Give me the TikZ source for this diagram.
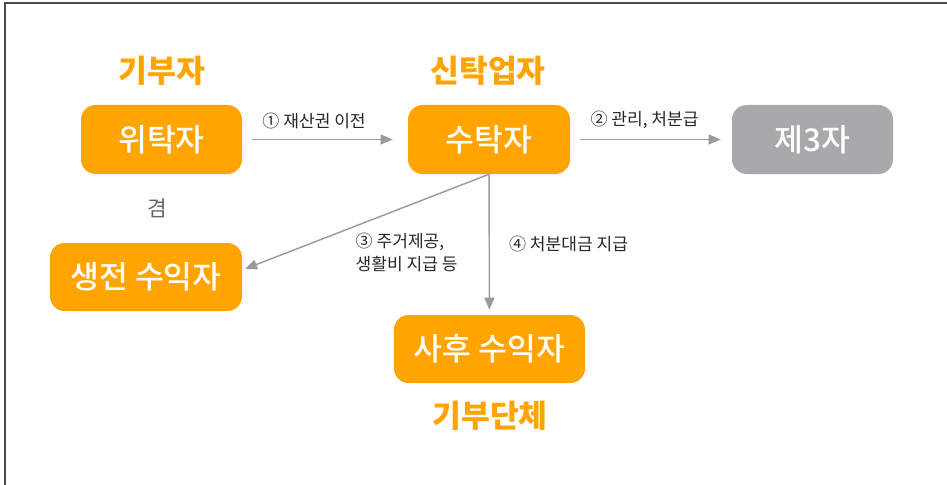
\documentclass[tikz,border=0pt]{standalone}
\usepackage{fontspec}
\setmainfont{Noto Sans CJK KR}
\newfontfamily\partyfont{Noto Sans CJK KR Medium}
\usetikzlibrary{calc,arrows.meta}
\definecolor{trustorange}{HTML}{FFA400}
\definecolor{boxgray}{HTML}{A8A9AB}
\definecolor{linegray}{HTML}{9B9B9B}
\tikzset{
  party/.style={rectangle, rounded corners=11pt, fill=trustorange, text=white,
    font=\partyfont\fontsize{23.5}{28}\selectfont, minimum width=120.75pt, minimum height=51.75pt, inner sep=0pt},
  role/.style={text=trustorange, font=\fontsize{23.5}{28}\selectfont\bfseries},
  flow/.style={draw=linegray, line width=1.1pt, -{Triangle[length=9pt,width=7.5pt]}},
  flowlabel/.style={font=\fontsize{12.8}{17.25}\selectfont, text=black!85}
}

\begin{document}
\begin{tikzpicture}[x=0.75pt,y=-0.75pt]
        \useasboundingbox (0,0) rectangle (947,485);
        \draw[line width=1.2pt, black!70] (5,485) -- (5,3) -- (947,3);

        \node[party] (settlor) at (161.5,139.5) {위탁자};
        \node[party, minimum width=121.5pt] (trustee) at (489,139.5) {수탁자};
        \node[party, fill=boxgray] (third) at (812.5,139.5) {제3자};
        \node[party, minimum width=144pt, minimum height=51pt] (living) at (146,277) {생전 수익자};
        \node[party, minimum width=143.25pt, minimum height=51pt] (after) at (489.5,349) {사후 수익자};

        \node[role] (donor) at (162,71) {기부자};
        \node[role] (trustco) at (488,71) {신탁업자};
        \node[role] (charity) at (490,416) {기부단체};
        \node[font=\fontsize{16}{19}\selectfont, text=black!60] (also) at (157,208) {겸};

        \draw[flow, shorten <=7.5pt, shorten >=11.25pt] (settlor) -- (trustee)
            node[flowlabel, pos=0.434, above=4pt] {① 재산권 이전};
        \draw[flow, shorten <=7.5pt, shorten >=8.25pt] (trustee) -- (third)
            node[flowlabel, pos=0.46, above=4pt] {② 관리, 처분급};
        \draw[flow, shorten >=2.25pt] (trustee.south) -- ([yshift=5.25pt]living.east);
        \draw[flow, shorten >=3.75pt] (trustee) -- (after)
            node[flowlabel, midway, right=11pt] {④ 처분대금 지급};
        \node[flowlabel, align=left, anchor=west] (care) at (351,252) {③ 주거제공,\\생활비 지급 등};
    \end{tikzpicture}
\end{document}
